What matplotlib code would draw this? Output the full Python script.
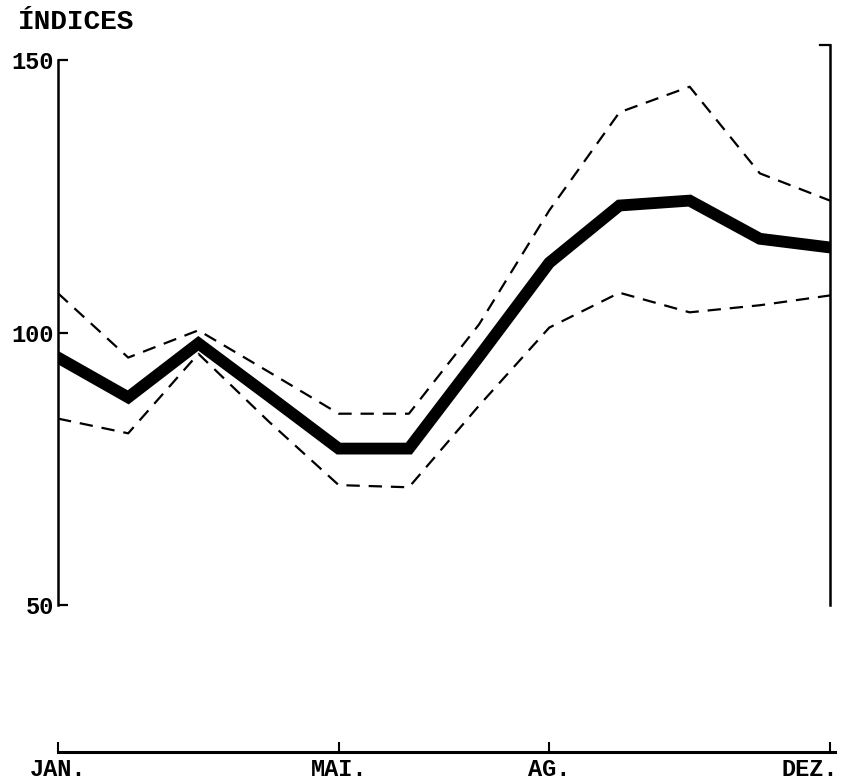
import matplotlib
matplotlib.use('Agg')
import matplotlib.pyplot as plt
import matplotlib.transforms as mtransforms

# monthly index values
MONTHS = list(range(1, 13))
MEDIA = [95.4, 88.1, 98.0, 88.4, 78.7, 78.7, 95.6, 112.8, 123.3, 124.2, 117.2, 115.6]
UPPER = [107.2, 95.4, 100.4, 92.8, 85.1, 85.1, 101.5, 122.4, 140.4, 145.1, 129.2, 124.2]
LOWER = [84.2, 81.5, 96.1, 83.7, 72.0, 71.6, 86.6, 100.9, 107.3, 103.7, 105.0, 106.8]

X_TICKS = [1, 5, 8, 12]
X_LABELS = ['JAN.', 'MAI.', 'AG.', 'DEZ.']
Y_TICKS = [50, 100, 150]

FONT = 'Liberation Mono'
W, H = 841, 784

fig = plt.figure(figsize=(W / 100, H / 100), dpi=100)

# main plotting area
left, right = 58 / W, 830 / W
bottom, top = 1 - 605 / H, 1 - 60 / H
ax = fig.add_axes([left, bottom, right - left, top - bottom])
ax.set_xlim(1, 12)
ax.set_ylim(50, 150)

ax.plot(MONTHS, UPPER, color='black', lw=1.6, linestyle=(0, (6, 4)))
ax.plot(MONTHS, LOWER, color='black', lw=1.6, linestyle=(0, (6, 4)))
ax.plot(MONTHS, MEDIA, color='black', lw=8.5, solid_joinstyle='miter')

for s in ['top', 'bottom', 'right']:
    ax.spines[s].set_visible(False)
ax.spines['left'].set_linewidth(1.8)
ax.set_xticks([])
ax.set_yticks(Y_TICKS)
ax.set_yticklabels([str(v) for v in Y_TICKS], fontsize=17, family=FONT,
                   fontweight='bold')
ax.tick_params(axis='y', direction='in', length=7, width=1.6, pad=3)

# right border, taller than the plot frame
ext = (605 - 45) / (605 - 60)
ax.plot([1, 1], [0, ext], transform=ax.transAxes, color='black', lw=1.8,
        clip_on=False)
ax.plot([0.987, 1], [ext, ext], transform=ax.transAxes, color='black', lw=1.6,
        clip_on=False)

fig.text(18 / W, 1 - 22 / H, 'ÍNDICES', fontsize=20, family=FONT,
         fontweight='bold', va='center', ha='left')

# detached month axis at the bottom
axb = fig.add_axes([left, 1 - 752 / H, 835 / W - left, 0.001])
axb.set_xlim(1, 12 + 5 / 772 * 11)
axb.set_ylim(0, 1)
for s in ['top', 'left', 'right']:
    axb.spines[s].set_visible(False)
axb.spines['bottom'].set_linewidth(2.2)
axb.set_yticks([])
axb.set_xticks(X_TICKS)
axb.set_xticklabels(X_LABELS, fontsize=17, family=FONT, fontweight='bold')
axb.tick_params(axis='x', direction='in', length=7, width=1.5, pad=4)

# keep the last month label inside the picture
last = axb.get_xticklabels()[-1]
last.set_transform(last.get_transform() +
                   mtransforms.ScaledTranslation(-20 / 100, 0, fig.dpi_scale_trans))

fig.savefig('out.png', dpi=100, facecolor='white')
